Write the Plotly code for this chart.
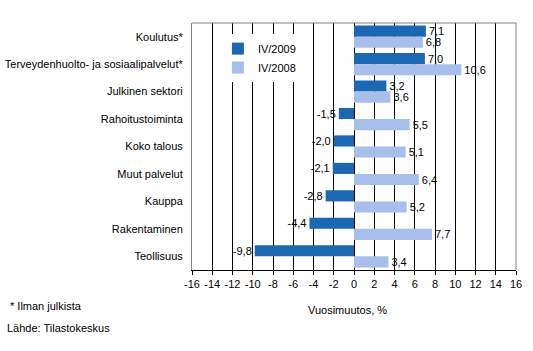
import plotly.graph_objects as go

categories = ["Koulutus*", "Terveydenhuolto- ja sosiaalipalvelut*", "Julkinen sektori",
              "Rahoitustoiminta", "Koko talous", "Muut palvelut", "Kauppa",
              "Rakentaminen", "Teollisuus"]
iv2009 = [7.1, 7.0, 3.2, -1.5, -2.0, -2.1, -2.8, -4.4, -9.8]
iv2008 = [6.8, 10.6, 3.6, 5.5, 5.1, 6.4, 5.2, 7.7, 3.4]
series_names = ["IV/2009", "IV/2008"]
x_ticks = list(range(-16, 17, 2))

FONT = "Liberation Sans, Arial, sans-serif"
DARK = "#1B67B2"
LIGHT = "#A8BEEB"


def fmt(v):
    return f"{v:.1f}".replace(".", ",")


fig = go.Figure()
for name, vals, col in [(series_names[0], iv2009, DARK), (series_names[1], iv2008, LIGHT)]:
    fig.add_trace(go.Bar(
        y=categories, x=vals, orientation="h", name=name,
        marker=dict(color=col, line=dict(width=0)),
        text=[fmt(v) for v in vals], textposition="outside",
        textfont=dict(family=FONT, size=11, color="black"),
        constraintext="none", cliponaxis=False,
    ))

fig.update_layout(
    width=533, height=351,
    margin=dict(l=192, r=17, t=23, b=81),
    paper_bgcolor="white", plot_bgcolor="white",
    barmode="group", bargap=0.19, bargroupgap=0,
    font=dict(family=FONT, size=11, color="black"),
    showlegend=True,
    legend=dict(x=0.08, y=0.955, xanchor="left", yanchor="top",
                bgcolor="white", borderwidth=0,
                font=dict(family=FONT, size=11, color="black"),
                itemwidth=30, tracegroupgap=0),
    xaxis=dict(range=[-16, 16], tickvals=x_ticks, ticktext=[str(t) for t in x_ticks],
               showgrid=True, gridcolor="black", gridwidth=1,
               zeroline=False, showline=True, linecolor="black", linewidth=1,
               ticks="outside", ticklen=4, tickcolor="black", automargin=False,
               tickfont=dict(family=FONT, size=11, color="black")),
    yaxis=dict(autorange="reversed", showgrid=False, zeroline=False,
               showline=True, linecolor="#808080", linewidth=1,
               ticks="", ticklabelstandoff=6, automargin=False,
               tickfont=dict(family=FONT, size=11, color="black")),
    shapes=[
        dict(type="line", xref="paper", yref="paper", x0=0, x1=1, y0=1, y1=1,
             line=dict(color="#808080", width=1), layer="above"),
        dict(type="line", xref="paper", yref="paper", x0=1, x1=1, y0=0, y1=1,
             line=dict(color="#808080", width=1), layer="above"),
    ],
    annotations=[
        dict(text="Vuosimuutos, %", xref="paper", yref="paper", x=0.48, y=-0.16,
             xanchor="center", yanchor="middle", showarrow=False,
             font=dict(family=FONT, size=11, color="black")),
        dict(text="* Ilman julkista", xref="paper", yref="paper", x=-0.568, y=-0.145,
             xanchor="left", yanchor="middle", showarrow=False,
             font=dict(family=FONT, size=11, color="black")),
        dict(text="Lähde: Tilastokeskus", xref="paper", yref="paper", x=-0.577, y=-0.235,
             xanchor="left", yanchor="middle", showarrow=False,
             font=dict(family=FONT, size=11, color="black")),
    ],
)

fig.write_html("out.html")
